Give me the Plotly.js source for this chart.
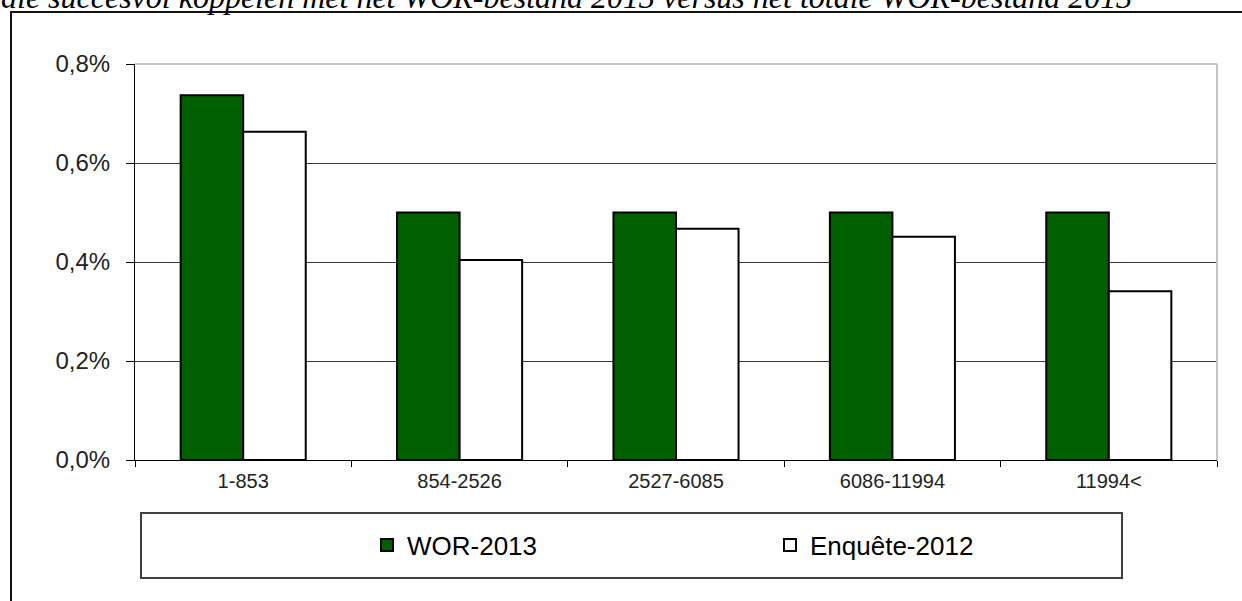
<!DOCTYPE html>
<html>
<head>
<meta charset="utf-8">
<script src="https://cdn.plot.ly/plotly-3.0.1.min.js"></script>
<style>html,body{margin:0;padding:0;background:#fff;}#chart{width:1242px;height:601px;}</style>
</head>
<body>
<div id="chart"></div>
<script>
// Data
const categories = ["1-853", "854-2526", "2527-6085", "6086-11994", "11994<"];
const wor2013 = [0.737, 0.50, 0.50, 0.50, 0.50];
const enquete2012 = [0.663, 0.404, 0.467, 0.451, 0.341];
const seriesNames = ["WOR-2013", "Enquête-2012"];
const caption = "die succesvol koppelen met het WOR-bestand 2013 versus het totale WOR-bestand 2013";

const W = 1242, H = 601;
const L = 135, R = 25, T = 64, B = 141;
const pw = W - L - R, ph = H - T - B;
const px = x => (x - L) / pw;
const py = y => (H - B - y) / ph;

const traces = [
  {type: "bar", name: seriesNames[0], x: categories, y: wor2013,
   marker: {color: "#006000", line: {color: "#000", width: 2}}},
  {type: "bar", name: seriesNames[1], x: categories, y: enquete2012,
   marker: {color: "#ffffff", line: {color: "#000", width: 2}}}
];

const layout = {
  width: W, height: H,
  margin: {l: L, r: R, t: T, b: B, pad: 0},
  paper_bgcolor: "#fff", plot_bgcolor: "#fff",
  separators: ",.",
  barmode: "group", bargap: 0.422, bargroupgap: 0,
  font: {family: "Liberation Sans, Arial, sans-serif", color: "#000"},
  xaxis: {
    type: "category", tickson: "boundaries", ticks: "outside", ticklen: 6,
    tickcolor: "#000", showline: true, linecolor: "#000", linewidth: 1,
    tickfont: {size: 20, color: "#222"}, showgrid: false, zeroline: false,
    ticklabelstandoff: 3
  },
  yaxis: {
    range: [0, 0.8], dtick: 0.2, tickformat: ".1f", ticksuffix: "%",
    ticks: "outside", ticklen: 8, tickcolor: "#000", showline: true, linecolor: "#000", linewidth: 1,
    showgrid: true, gridcolor: "#383838", gridwidth: 1, zeroline: false,
    tickfont: {size: 24, color: "#222"}, ticklabelstandoff: 11
  },
  showlegend: true,
  legend: {
    orientation: "h", x: px(367), xanchor: "left", y: py(545), yanchor: "middle",
    font: {size: 26, color: "#000"}, entrywidth: 358, entrywidthmode: "pixels",
    bgcolor: "rgba(0,0,0,0)", itemwidth: 30, traceorder: "normal"
  },
  shapes: [
    {type: "line", xref: "paper", yref: "paper", x0: 0, x1: 1, y0: 1, y1: 1, line: {color: "#c4c4c4", width: 2}, layer: "above"},
    {type: "line", xref: "paper", yref: "paper", x0: 1, x1: 1, y0: 0, y1: 1, line: {color: "#c4c4c4", width: 2}, layer: "above"},
    {type: "rect", xref: "paper", yref: "paper", x0: px(141), x1: px(1122), y0: py(578), y1: py(513), line: {color: "#404040", width: 2}},
    {type: "rect", xref: "paper", yref: "paper", x0: px(11), x1: px(1260), y0: py(640), y1: py(12), line: {color: "#111", width: 2}}
  ],
  annotations: [
    {text: "<i>" + caption + "</i>", xref: "paper", yref: "paper", x: px(-1), xanchor: "left",
     y: py(17), yanchor: "bottom", showarrow: false,
     font: {family: "Liberation Serif, Times New Roman, serif", size: 32, color: "#000"}}
  ]
};

Plotly.newPlot("chart", traces, layout, {displayModeBar: false, staticPlot: true});
</script>
</body>
</html>
